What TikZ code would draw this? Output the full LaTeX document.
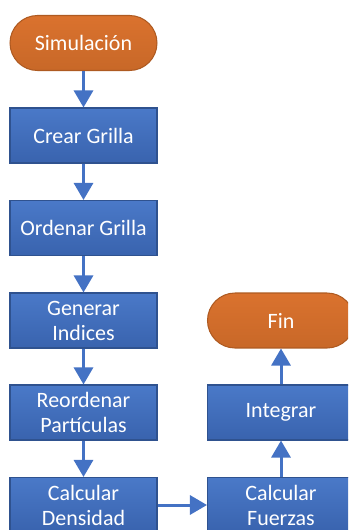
\documentclass[tikz,border=0pt]{standalone}
\usepackage{fontspec}
\setmainfont{Carlito}
\usepackage{tikz}
\usetikzlibrary{arrows.meta}
\usepackage{xcolor}

\definecolor{blueTop}{RGB}{74,121,200}
\definecolor{blueBot}{RGB}{57,99,174}
\definecolor{blueLine}{RGB}{47,82,143}
\definecolor{arrowBlue}{RGB}{68,114,196}
\definecolor{orangeTop}{RGB}{218,114,46}
\definecolor{orangeBot}{RGB}{200,104,40}
\definecolor{orangeLine}{RGB}{174,90,33}

\tikzset{
	procbox/.style={rectangle, draw=blueLine, line width=0.6pt,
		top color=blueTop, bottom color=blueBot, text=white,
		minimum width=2.94cm, minimum height=1.1cm, align=center,
		font=\fontsize{12.5}{14.2}\selectfont},
	termbox/.style={procbox, draw=orangeLine, top color=orangeTop,
		bottom color=orangeBot, rounded corners=0.55cm},
	flow/.style={draw=arrowBlue, line width=0.06cm,
		-{Triangle[width=0.38cm,length=0.34cm]}}
}

\begin{document}
\begin{tikzpicture}[x=0.02cm,y=-0.02cm]
		% Frame
		\useasboundingbox (0,0) rectangle (348,530);
		\clip (0,0) rectangle (348,530);
		
		% Left column
		\node[termbox] (sim) at (83.5,43) {Simulación};
		\node[procbox] (crear) at (83.5,135.5) {Crear Grilla};
		\node[procbox] (ordenar) at (83.5,228) {Ordenar Grilla};
		\node[procbox] (indices) at (83.5,320.5) {Generar\\Indices};
		\node[procbox] (reordenar) at (83.5,412.5) {Reordenar\\Partículas};
		\node[procbox] (densidad) at (83.5,505) {Calcular\\Densidad};
		
		% Right column
		\node[procbox] (fuerzas) at (281,505) {Calcular\\Fuerzas};
		\node[procbox] (integrar) at (281,412.5) {Integrar};
		\node[termbox] (fin) at (281,320.5) {Fin};
		
		% Connectors
		\foreach \from/\to in {sim/crear, crear/ordenar, ordenar/indices,
			indices/reordenar, reordenar/densidad, densidad/fuerzas,
			fuerzas/integrar, integrar/fin} {
			\draw[flow] (\from) -- (\to);
		}
	\end{tikzpicture}
\end{document}
